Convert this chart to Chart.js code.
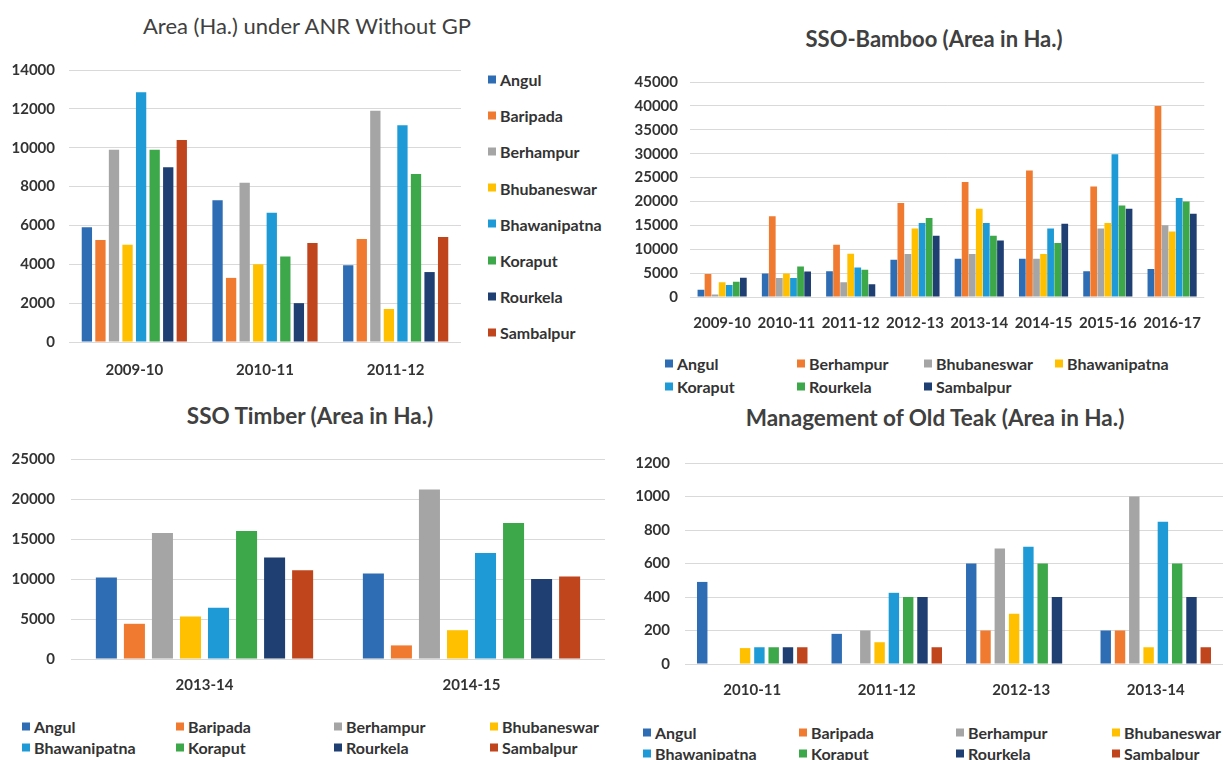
<!DOCTYPE html>
<html><head><meta charset="utf-8">
<script src="https://cdn.jsdelivr.net/npm/chart.js@4.4.1/dist/chart.umd.min.js"></script>
<style>
html,body{margin:0;padding:0;background:#fff;}
body{width:1223px;height:760px;position:relative;overflow:hidden;font-family:Lato,'Open Sans',sans-serif;}
canvas{position:absolute;}
.title{position:absolute;transform:translate(-50%,-50%);white-space:nowrap;color:#404040;font-weight:700;}
.lg{position:absolute;display:flex;align-items:center;white-space:nowrap;font-weight:700;font-size:16px;color:#333;transform:translateY(-50%);}
.lg i{display:inline-block;width:8px;height:8px;margin-right:4px;}
</style></head><body>
<canvas id="c1"></canvas>
<canvas id="c2"></canvas>
<canvas id="c3"></canvas>
<canvas id="c4"></canvas>
<script>
// ---------- data ----------
const palette = ['#2E6DB4','#F07A30','#A5A5A5','#FFC000','#1E9BD7','#3CA84A','#1F3F73','#C0441C'];

// Chart 1: Area (Ha.) under ANR Without GP
const anrTitle = 'Area (Ha.) under ANR Without GP';
const anrYears = ['2009-10','2010-11','2011-12'];
const anrNames = ['Angul','Baripada','Berhampur','Bhubaneswar','Bhawanipatna','Koraput','Rourkela','Sambalpur'];
const anrAngul        = [5900, 7300, 3950];
const anrBaripada     = [5250, 3300, 5300];
const anrBerhampur    = [9900, 8200, 11900];
const anrBhubaneswar  = [5000, 4000, 1700];
const anrBhawanipatna = [12850, 6650, 11150];
const anrKoraput      = [9900, 4400, 8650];
const anrRourkela     = [9000, 2000, 3600];
const anrSambalpur    = [10400, 5100, 5400];
const anrTicks = {max: 14000, step: 2000};

// Chart 2: SSO-Bamboo
const bambooTitle = 'SSO-Bamboo (Area in Ha.)';
const bambooYears = ['2009-10','2010-11','2011-12','2012-13','2013-14','2014-15','2015-16','2016-17'];
const bambooNames = ['Angul','Berhampur','Bhubaneswar','Bhawanipatna','Koraput','Rourkela','Sambalpur'];
const bambooAngul        = [1500, 4900, 5400, 7800, 8000, 8000, 5400, 5850];
const bambooBerhampur    = [4800, 16900, 10950, 19650, 24050, 26500, 23150, 40000];
const bambooBhubaneswar  = [500, 4000, 3100, 9000, 9000, 8000, 14350, 15000];
const bambooBhawanipatna = [3100, 4900, 9050, 14350, 18450, 9000, 15500, 13700];
const bambooKoraput      = [2500, 4000, 6150, 15500, 15500, 14350, 29900, 20700];
const bambooRourkela     = [3200, 6400, 5700, 16550, 12800, 11300, 19150, 20000];
const bambooSambalpur    = [4050, 5350, 2650, 12800, 11850, 15350, 18450, 17400];
const bambooTicks = {max: 45000, step: 5000};

// Chart 3: SSO Timber
const timberTitle = 'SSO Timber (Area in Ha.)';
const timberYears = ['2013-14','2014-15'];
const timberNames = ['Angul','Baripada','Berhampur','Bhubaneswar','Bhawanipatna','Koraput','Rourkela','Sambalpur'];
const timberAngul        = [10200, 10700];
const timberBaripada     = [4400, 1700];
const timberBerhampur    = [15750, 21200];
const timberBhubaneswar  = [5300, 3600];
const timberBhawanipatna = [6400, 13250];
const timberKoraput      = [16000, 17000];
const timberRourkela     = [12700, 10000];
const timberSambalpur    = [11100, 10300];
const timberTicks = {max: 25000, step: 5000};

// Chart 4: Management of Old Teak
const teakTitle = 'Management of Old Teak (Area in Ha.)';
const teakYears = ['2010-11','2011-12','2012-13','2013-14'];
const teakNames = ['Angul','Baripada','Berhampur','Bhubaneswar','Bhawanipatna','Koraput','Rourkela','Sambalpur'];
const teakAngul        = [490, 180, 600, 200];
const teakBaripada     = [0, 0, 200, 200];
const teakBerhampur    = [0, 200, 690, 1000];
const teakBhubaneswar  = [95, 130, 300, 100];
const teakBhawanipatna = [100, 425, 700, 850];
const teakKoraput      = [100, 400, 600, 600];
const teakRourkela     = [100, 400, 400, 400];
const teakSambalpur    = [100, 100, 0, 100];
const teakTicks = {max: 1200, step: 200};

// ---------- rendering ----------
const TEXT = '#333333';
const tickFont = {family: "Lato, 'Open Sans', sans-serif", size: 15, weight: 'bold'};

// L.box = desired plot area on the page: [left, top, right, bottom]
function makeChart(id, labels, names, series, ticks, L) {
  const [pl, pt, pr, pb] = L.box;
  const cv = document.getElementById(id);
  const cLeft = pl - L.yW;
  const cW = pr - cLeft;
  cv.style.left = cLeft + 'px';
  cv.width = cW; cv.height = (pb - pt) + 40 + L.xH;
  const datasets = names.map((n, i) => ({
    label: n, data: series[i], backgroundColor: palette[i], borderWidth: 0,
    categoryPercentage: L.cat, barPercentage: L.bar
  }));
  const chart = new Chart(cv, {
    type: 'bar',
    data: {labels, datasets},
    options: {
      responsive: false, maintainAspectRatio: false, animation: false, devicePixelRatio: 1,
      layout: {padding: 0},
      plugins: {legend: {display: false}, title: {display: false}, tooltip: {enabled: false}},
      scales: {
        x: {
          grid: {display: false, drawTicks: false}, border: {display: false},
          ticks: {font: tickFont, color: TEXT, padding: L.xPad, maxRotation: 0, autoSkip: false},
          afterFit: s => { s.height = L.xH; }
        },
        y: {
          min: 0, max: ticks.max,
          grid: {color: '#d9d9d9', drawTicks: false, lineWidth: 1}, border: {display: false},
          ticks: {stepSize: ticks.step, font: tickFont, color: TEXT, padding: L.yPad,
                  callback: v => String(v)},
          afterFit: s => { s.width = L.yW; }
        }
      }
    }
  });
  const t = chart.chartArea.top;
  chart.resize(cW, Math.round(t + (pb - pt) + L.xH));
  cv.style.top = (pt - chart.chartArea.top) + 'px';
  return chart;
}

function addTitle(text, x, y, size, weight) {
  const d = document.createElement('div');
  d.className = 'title'; d.textContent = text;
  d.style.left = x + 'px'; d.style.top = y + 'px';
  d.style.fontSize = size + 'px'; d.style.fontWeight = weight;
  document.body.appendChild(d);
}

function addLegend(chart, place) {
  chart.data.datasets.forEach((ds, i) => {
    const p = place(i);
    const d = document.createElement('div');
    d.className = 'lg';
    d.style.left = p[0] + 'px'; d.style.top = p[1] + 'px';
    const b = document.createElement('i'); b.style.background = ds.backgroundColor;
    d.appendChild(b);
    d.appendChild(document.createTextNode(ds.label));
    document.body.appendChild(d);
  });
}

const c1 = makeChart('c1', anrYears, anrNames,
  [anrAngul, anrBaripada, anrBerhampur, anrBhubaneswar, anrBhawanipatna, anrKoraput, anrRourkela, anrSambalpur],
  anrTicks, {box: [69, 70, 461, 342], cat: 0.83, bar: 0.76, xH: 48, yW: 69, xPad: 19, yPad: 14});
addTitle(anrTitle, 307, 25, 22, 400);
addLegend(c1, i => [488, 79 + i * 36.2]);

const c2 = makeChart('c2', bambooYears, bambooNames,
  [bambooAngul, bambooBerhampur, bambooBhubaneswar, bambooBhawanipatna, bambooKoraput, bambooRourkela, bambooSambalpur],
  bambooTicks, {box: [690, 82, 1218, 297], cat: 0.77, bar: 0.95, xH: 43, yW: 70, xPad: 17, yPad: 12});
addTitle(bambooTitle, 934, 38, 22, 700);
const c2cols = [665, 797, 924, 1055], c2rows = [363, 386];
addLegend(c2, i => [c2cols[i % 4], c2rows[Math.floor(i / 4)]]);

const c3 = makeChart('c3', timberYears, timberNames,
  [timberAngul, timberBaripada, timberBerhampur, timberBhubaneswar, timberBhawanipatna, timberKoraput, timberRourkela, timberSambalpur],
  timberTicks, {box: [71, 459, 605, 659], cat: 0.84, bar: 0.75, xH: 41, yW: 71, xPad: 17, yPad: 16});
addTitle(timberTitle, 310, 415, 22.5, 700);
const c3cols = [22, 176, 334, 490], c3rows = [726, 747];
addLegend(c3, i => [c3cols[i % 4], c3rows[Math.floor(i / 4)]]);

const c4 = makeChart('c4', teakYears, teakNames,
  [teakAngul, teakBaripada, teakBerhampur, teakBhubaneswar, teakBhawanipatna, teakKoraput, teakRourkela, teakSambalpur],
  teakTicks, {box: [685, 463, 1223, 664], cat: 0.85, bar: 0.73, xH: 41, yW: 65, xPad: 17, yPad: 15});
addTitle(teakTitle, 935, 417, 22.5, 700);
const c4cols = [643, 799, 956, 1112], c4rows = [732, 753];
addLegend(c4, i => [c4cols[i % 4], c4rows[Math.floor(i / 4)]]);
</script>
</body></html>
